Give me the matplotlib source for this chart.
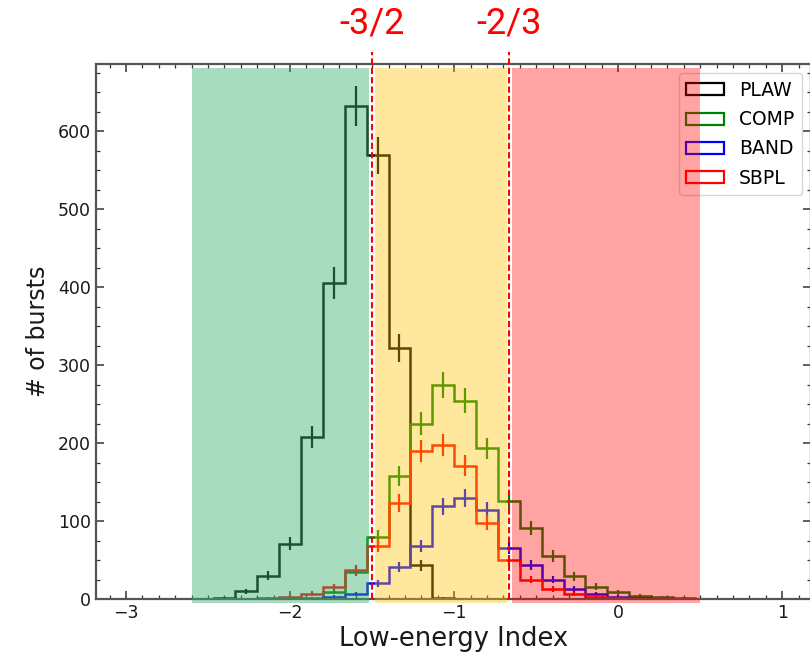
import numpy as np
import matplotlib
matplotlib.use("Agg")
import matplotlib.pyplot as plt
from matplotlib.patches import Patch
from matplotlib.ticker import MultipleLocator
import matplotlib.transforms as mtransforms

# Bin edges of the low-energy index histograms (width 2/15)
bin_edges = np.linspace(-3 - 2 / 15, 1 + 2 / 15, 33)

# Counts per bin for each spectral model
plaw = [0, 0, 0, 0, 0, 1, 10, 30, 71, 208, 405, 632, 569, 322, 43, 1,
        0, 0, 0, 0, 0, 0, 0, 0, 0, 0, 0, 0, 0, 0, 0, 0]
comp = [0, 0, 0, 0, 0, 0, 0, 0, 0, 1, 9, 35, 80, 158, 225, 274,
        254, 193, 126, 91, 55, 29, 16, 9, 4, 2, 1, 0, 0, 0, 0, 0]
band = [0, 0, 0, 0, 0, 0, 0, 0, 0, 0, 3, 6, 20, 41, 68, 119,
        130, 114, 66, 44, 25, 13, 6, 3, 1, 0, 0, 0, 0, 0, 0, 0]
sbpl = [0, 0, 0, 0, 0, 0, 0, 1, 3, 7, 15, 37, 68, 123, 190, 197,
        171, 98, 50, 25, 13, 6, 3, 1, 0, 0, 0, 0, 0, 0, 0, 0]

series_names = ["PLAW", "COMP", "BAND", "SBPL"]
series_colors = ["black", "green", "blue", "red"]

# Synchrotron "line of death" markers and shaded index regimes
marker_values = [-1.5, -2 / 3]
marker_labels = ["-3/2", "-2/3"]
regions = [(-2.6, -1.52, "mediumseagreen", 0.45),
           (-1.48, -0.68, "#FFC000", 0.38),
           (-0.65, 0.5, "red", 0.36)]

fig = plt.figure(figsize=(8.10, 6.63), dpi=100)
ax = fig.add_axes([0.1185, 0.0965, 0.8827, 0.807])

centers = 0.5 * (bin_edges[:-1] + bin_edges[1:])
for name, values, color in zip(series_names, [plaw, comp, band, sbpl], series_colors):
    values = np.asarray(values, dtype=float)
    ax.stairs(values, bin_edges, color=color, lw=1.8)
    mask = values > 0
    ax.errorbar(centers[mask], values[mask], yerr=np.sqrt(values[mask]),
                fmt="none", ecolor=color, elinewidth=1.6)

ax.set_xlim(-3.183, 1.175)
ax.set_ylim(0, 686)

ax.xaxis.set_major_locator(MultipleLocator(1))
ax.xaxis.set_minor_locator(MultipleLocator(0.1))
ax.yaxis.set_major_locator(MultipleLocator(100))
ax.yaxis.set_minor_locator(MultipleLocator(25))
ax.tick_params(which="both", direction="in", top=True, right=True,
               labelsize=12.5, colors="#333333", labelcolor="#1a1a1a")
ax.tick_params(which="major", length=6, width=1.1)
ax.tick_params(which="minor", length=3, width=0.9)
for sp in ax.spines.values():
    sp.set_color("#555555")
    sp.set_linewidth(1.6)

ax.set_xlabel("Low-energy Index", fontsize=18.5, color="#1a1a1a", labelpad=3)
ax.set_ylabel("# of bursts", fontsize=17, color="#1a1a1a", labelpad=6)

handles = [Patch(facecolor="none", edgecolor=c, lw=1.6, label=n)
           for n, c in zip(series_names, series_colors)]
ax.legend(handles=handles, loc="upper right", fontsize=13.5,
          handlelength=2.0, handleheight=0.6, labelspacing=0.55,
          borderaxespad=0.5, frameon=True)

# Shaded regimes, laid over the histograms
for x0, x1, c, a in regions:
    ax.axvspan(x0, x1, ymin=-0.0075, ymax=0.9925, color=c, alpha=a,
               lw=0, zorder=6, clip_on=False)

trans = mtransforms.blended_transform_factory(ax.transData, ax.transAxes)
for xv, lab in zip(marker_values, marker_labels):
    ax.plot([xv, xv], [0, 1.022], transform=trans, color="red", lw=1.5,
            linestyle=(0, (3, 1.5)), zorder=7, clip_on=False)
    ax.text(xv, 1.075, lab, transform=trans, color="red", fontsize=26,
            ha="center", va="center",
            family=["Roboto", "DejaVu Sans"])

fig.savefig("out.png", dpi=100)
